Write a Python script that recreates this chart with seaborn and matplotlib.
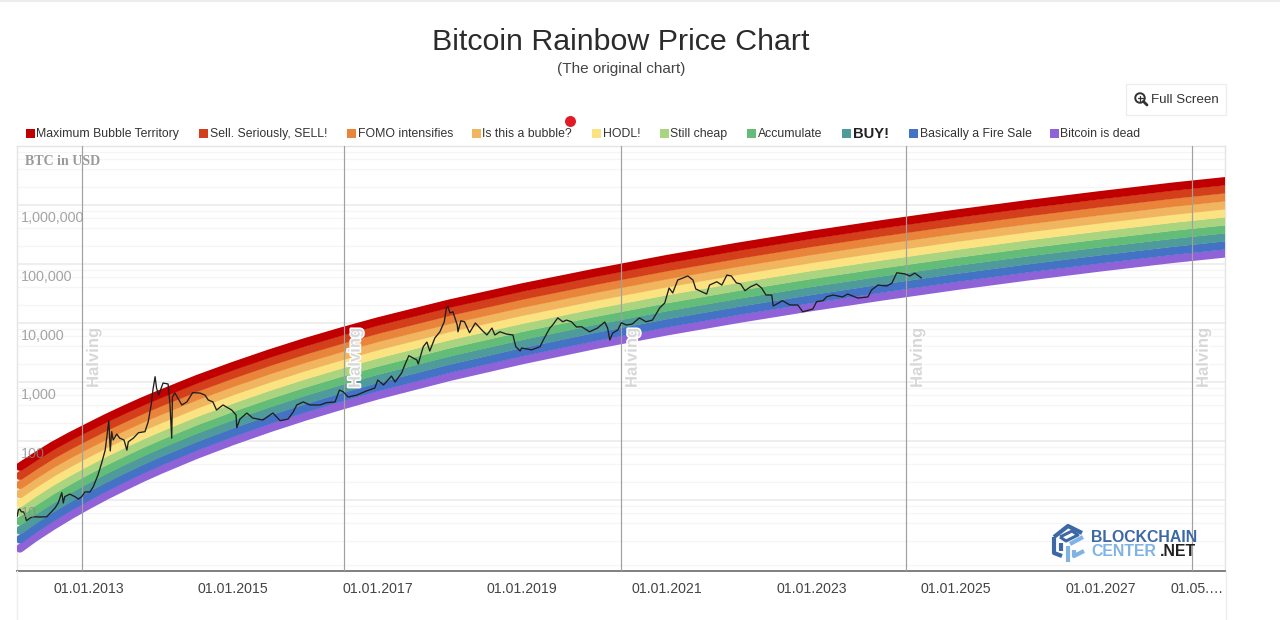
import numpy as np
import pandas as pd
import matplotlib
matplotlib.use("Agg")
import matplotlib.pyplot as plt
import matplotlib.patheffects as pe
from matplotlib.lines import Line2D
from matplotlib.patches import Rectangle, Ellipse
from matplotlib.ticker import LogLocator, NullFormatter, NullLocator
import matplotlib.transforms as mtrans
import seaborn as sns

# ---------- data ----------
band_years = [2012.05, 2012.25, 2012.5, 2012.75, 2013, 2013.25, 2013.5, 2013.75, 2014, 2014.5, 2015, 2015.5, 2016, 2016.5, 2017,
              2018, 2019, 2020, 2021, 2022, 2023, 2024, 2025, 2026, 2027, 2028, 2028.75]
# log10 of the USD price along the centre of each band
log_dead = [.178, .357, .557, .742, .915, 1.078, 1.230, 1.377, 1.514, 1.770, 2.002, 2.216, 2.416, 2.600, 2.774, 3.089, 3.370, 3.626, 3.859, 4.072, 4.270, 4.454, 4.628, 4.791, 4.943, 5.087, 5.183]
log_fire = [.332, .509, .708, .891, 1.062, 1.224, 1.375, 1.521, 1.657, 1.912, 2.143, 2.357, 2.556, 2.740, 2.913, 3.227, 3.507, 3.762, 3.995, 4.208, 4.406, 4.590, 4.764, 4.927, 5.079, 5.223, 5.319]
log_buy = [.486, .661, .859, 1.040, 1.209, 1.370, 1.520, 1.665, 1.800, 2.054, 2.284, 2.497, 2.696, 2.879, 3.052, 3.365, 3.644, 3.898, 4.131, 4.344, 4.542, 4.726, 4.900, 5.063, 5.215, 5.359, 5.455]
log_accu = [.640, .813, 1.010, 1.189, 1.356, 1.516, 1.665, 1.809, 1.943, 2.196, 2.425, 2.638, 2.836, 3.019, 3.191, 3.503, 3.781, 4.034, 4.267, 4.480, 4.678, 4.862, 5.036, 5.199, 5.351, 5.495, 5.591]
log_cheap = [.794, .965, 1.161, 1.338, 1.503, 1.662, 1.810, 1.953, 2.086, 2.338, 2.566, 2.778, 2.976, 3.158, 3.330, 3.641, 3.918, 4.170, 4.403, 4.616, 4.814, 4.998, 5.172, 5.335, 5.487, 5.631, 5.727]
log_hodl = [.948, 1.117, 1.312, 1.487, 1.650, 1.808, 1.955, 2.097, 2.229, 2.480, 2.707, 2.919, 3.116, 3.298, 3.469, 3.779, 4.055, 4.306, 4.539, 4.752, 4.950, 5.134, 5.308, 5.471, 5.623, 5.767, 5.863]
log_bubble = [1.102, 1.269, 1.463, 1.636, 1.797, 1.954, 2.100, 2.241, 2.372, 2.622, 2.848, 3.059, 3.256, 3.437, 3.608, 3.917, 4.192, 4.442, 4.675, 4.888, 5.086, 5.270, 5.444, 5.607, 5.759, 5.903, 5.999]
log_fomo = [1.256, 1.421, 1.614, 1.785, 1.944, 2.100, 2.245, 2.385, 2.515, 2.764, 2.989, 3.200, 3.396, 3.577, 3.747, 4.055, 4.329, 4.578, 4.811, 5.024, 5.222, 5.406, 5.580, 5.743, 5.895, 6.039, 6.135]
log_sell = [1.410, 1.573, 1.765, 1.934, 2.091, 2.246, 2.390, 2.529, 2.658, 2.906, 3.130, 3.340, 3.536, 3.716, 3.886, 4.193, 4.466, 4.714, 4.947, 5.160, 5.358, 5.542, 5.716, 5.879, 6.031, 6.175, 6.271]
log_max = [1.564, 1.725, 1.916, 2.083, 2.238, 2.392, 2.535, 2.673, 2.801, 3.048, 3.271, 3.481, 3.676, 3.856, 4.025, 4.331, 4.603, 4.850, 5.083, 5.296, 5.494, 5.678, 5.852, 6.015, 6.167, 6.311, 6.407]

legend_labels = ["Maximum Bubble Territory", "Sell. Seriously, SELL!", "FOMO intensifies", "Is this a bubble?",
                 "HODL!", "Still cheap", "Accumulate", "BUY!", "Basically a Fire Sale", "Bitcoin is dead"]
band_logs = [log_max, log_sell, log_fomo, log_bubble, log_hodl, log_cheap, log_accu, log_buy, log_fire, log_dead]
band_colors = ["#C00000", "#D33F1B", "#E9853A", "#F1B45F", "#FBE381", "#ABD481", "#63BC78", "#4F9A9A", "#4473C6", "#9062D8"]

price_years = [2012.01, 2012.03, 2012.05, 2012.07, 2012.10, 2012.12, 2012.14, 2012.19, 2012.23, 2012.33, 2012.42, 2012.47,
    2012.535, 2012.58, 2012.63, 2012.65, 2012.67, 2012.74, 2012.81, 2012.86, 2012.905, 2012.95, 2013.02, 2013.065, 2013.13,
    2013.18, 2013.23, 2013.26, 2013.28, 2013.30, 2013.32, 2013.34, 2013.39, 2013.43, 2013.49, 2013.53, 2013.55, 2013.62,
    2013.69, 2013.78, 2013.825, 2013.87, 2013.89, 2013.92, 2013.94, 2013.97, 2014.03, 2014.10, 2014.125, 2014.15, 2014.16,
    2014.195, 2014.29, 2014.36, 2014.44, 2014.54, 2014.61, 2014.655, 2014.72, 2014.77, 2014.86, 2014.98, 2015.04, 2015.05,
    2015.095, 2015.19, 2015.27, 2015.41, 2015.55, 2015.65, 2015.76, 2015.83, 2015.88, 2015.97, 2016.06, 2016.20, 2016.29,
    2016.41, 2016.47, 2016.52, 2016.59, 2016.71, 2016.85, 2016.96, 2017.00, 2017.08, 2017.19, 2017.24, 2017.33, 2017.38,
    2017.43, 2017.54, 2017.56, 2017.63, 2017.68, 2017.72, 2017.79, 2017.86, 2017.92, 2017.95, 2017.97, 2018.00, 2018.04,
    2018.10, 2018.11, 2018.15, 2018.20, 2018.27, 2018.35, 2018.44, 2018.51, 2018.58, 2018.62, 2018.69, 2018.78, 2018.87,
    2018.91, 2018.97, 2018.99, 2019.13, 2019.245, 2019.29, 2019.38, 2019.42, 2019.49, 2019.56, 2019.61, 2019.68, 2019.75,
    2019.82, 2019.93, 2020.04, 2020.14, 2020.18, 2020.21, 2020.25, 2020.32, 2020.37, 2020.44, 2020.52, 2020.62, 2020.71,
    2020.80, 2020.90, 2020.97, 2021.03, 2021.08, 2021.15, 2021.22, 2021.29, 2021.36, 2021.40, 2021.48, 2021.55, 2021.59,
    2021.69, 2021.76, 2021.83, 2021.89, 2021.96, 2022.02, 2022.08, 2022.155, 2022.24, 2022.31, 2022.37, 2022.45, 2022.47,
    2022.60, 2022.70, 2022.81, 2022.88, 2023.02, 2023.07, 2023.16, 2023.21, 2023.30, 2023.43, 2023.50, 2023.64, 2023.78,
    2023.83, 2023.92, 2024.04, 2024.11, 2024.18, 2024.29, 2024.36, 2024.43, 2024.52]
price_usd = [5.2, 6.8, 7.0, 6.3, 6.3, 5.6, 4.45, 4.95, 5.2, 5.15, 5.2, 6.0,
    7.3, 8.9, 13.3, 8.9, 11.4, 12.6, 11.4, 10.4, 11.4, 13.7, 13.7, 16.8, 26.5,
    42, 70, 137, 221, 68, 144, 104, 131, 112, 104, 70, 97, 112,
    138, 144, 212, 440, 730, 1230, 790, 600, 960, 925, 440, 112, 560,
    650, 408, 460, 660, 650, 600, 496, 460, 335, 408, 335, 276, 168,
    236, 298, 245, 227, 298, 221, 236, 310, 408, 460, 408, 408, 446,
    460, 730, 685, 557, 600, 710, 790, 1080, 890, 1260, 1000, 1420, 2020,
    2790, 2360, 2020, 3970, 4760, 3350, 5570, 7100, 10500, 18000, 18900, 14800, 15500,
    9250, 7100, 10900, 10500, 6850, 10000, 7600, 6270, 8200, 6270, 7100, 6500, 6270,
    3970, 3350, 3770, 3500, 3970, 5150, 8200, 9250, 12200, 10500, 11200, 10500, 8550,
    8650, 7100, 8200, 10400, 8200, 5150, 6760, 7600, 10100, 9250, 9600, 12200, 10500,
    11200, 18000, 21800, 39200, 32300, 53500, 57900, 62700, 53500, 37700, 33900, 31000, 44000,
    50000, 44000, 65000, 62700, 48000, 45800, 35300, 41000, 45800, 39200, 29800, 29800, 19400,
    23900, 20200, 20200, 15500, 17300, 23000, 23900, 27900, 29800, 27600, 31000, 26500, 27600,
    36200, 44000, 42400, 47000, 71000, 68000, 62700, 70000, 58000]

halving_years = [2012.91, 2016.53, 2020.36, 2024.305, 2028.26]
x_tick_pos = [2013, 2015, 2017, 2019, 2021, 2023, 2025, 2027, 2028.33]
x_tick_labels = ["01.01.2013", "01.01.2015", "01.01.2017", "01.01.2019", "01.01.2021", "01.01.2023",
                 "01.01.2025", "01.01.2027", "01.05.\u2026"]
y_tick_pos = [10, 100, 1000, 10000, 100000, 1000000]
y_tick_labels = ["10", "100", "1,000", "10,000", "100,000", "1,000,000"]

# ---------- theme ----------
W, H = 1280, 620
sns.set_theme(style="white")
plt.rcParams["font.family"] = ["Liberation Sans", "DejaVu Sans"]
fig = plt.figure(figsize=(W / 100, H / 100), dpi=100, facecolor="white")


def fx(x):
    return x / W


def fy(y):
    return 1 - y / H


rect = [fx(17), fy(571), (1225 - 17) / W, (571 - 146) / H]
ax = fig.add_axes(rect)
ax.set_facecolor("white")

# ---------- bands (thick round-capped strokes) ----------
band_px = 8.3
for label, logs, col in zip(legend_labels[::-1], band_logs[::-1], band_colors[::-1]):
    df = pd.DataFrame({"year": band_years, "price": 10.0 ** np.array(logs)})
    sns.lineplot(data=df, x="year", y="price", color=col, linewidth=band_px * 0.72, estimator=None,
                 sort=False, ax=ax, solid_capstyle="round", solid_joinstyle="round", zorder=3)

# ---------- price ----------
df_price = pd.DataFrame({"year": price_years, "price": price_usd})
sns.lineplot(data=df_price, x="year", y="price", color="#1f1f1f", linewidth=0.95, estimator=None,
             sort=False, ax=ax, zorder=6)

ax.set_yscale("log")
ax.set_xlim(2012.01, 2028.72)
ax.set_ylim(10 ** -0.2034, 10 ** 7.0)
ax.set_xlabel("")
ax.set_ylabel("")

# ---------- axes ----------
ax.set_xticks(x_tick_pos)
ax.set_xticklabels(x_tick_labels, fontsize=10.2, color="#444444")
ax.tick_params(axis="x", length=0, pad=8)
ax.set_yticks(y_tick_pos)
ax.set_yticklabels([])
ax.yaxis.set_minor_locator(LogLocator(base=10, subs=[2, 4, 6, 8], numticks=20))
ax.yaxis.set_minor_formatter(NullFormatter())
ax.tick_params(axis="y", which="both", length=0)
ax.set_axisbelow(True)
ax.grid(True, axis="y", which="major", color="#e9e9e9", linewidth=1.1, zorder=0)
ax.grid(True, axis="y", which="minor", color="#f5f5f5", linewidth=0.9, zorder=0)
ax.grid(False, axis="x")
for s in ["top", "left", "right"]:
    ax.spines[s].set_color("#e4e4e4")
    ax.spines[s].set_linewidth(1.0)
ax.spines["bottom"].set_color("#808080")
ax.spines["bottom"].set_linewidth(1.4)

# y labels sit above the rainbow, so they live on a transparent overlay axes
ax_lab = fig.add_axes(rect, frameon=False, zorder=ax.get_zorder() + 1)
ax_lab.patch.set_visible(False)
ax_lab.set_yscale("log")
ax_lab.set_xlim(ax.get_xlim())
ax_lab.set_ylim(ax.get_ylim())
ax_lab.xaxis.set_major_locator(NullLocator())
ax_lab.set_yticks(y_tick_pos)
ax_lab.set_yticklabels(y_tick_labels, fontsize=10.4, color="#8c8c8c", alpha=0.78)
ax_lab.yaxis.set_minor_locator(NullLocator())
ax_lab.tick_params(axis="y", which="both", length=0, pad=-3)
off = mtrans.ScaledTranslation(0, -12 / 100, fig.dpi_scale_trans)
for lab in ax_lab.get_yticklabels():
    lab.set_horizontalalignment("left")
    lab.set_transform(lab.get_transform() + off)

# ---------- halvings ----------
for yr in halving_years:
    ax.axvline(yr, color="#a0a0a0", linewidth=0.85, zorder=5)
    t = ax.annotate("Halving", xy=(yr, 0), xycoords=("data", "axes fraction"), xytext=(11.5 * 0.72, 183 * 0.72),
                    textcoords="offset points", rotation=90, ha="center", va="bottom", fontsize=12,
                    fontweight="bold", color="#d8d8d8", zorder=7)
    t.set_path_effects([pe.withStroke(linewidth=2.2, foreground="white")])

ax.text(fx(25), fy(162), "BTC in USD", transform=fig.transFigure, family=["Liberation Serif"], fontweight="bold",
        fontsize=10.1, color="#9a9a9a", va="center", zorder=7)

# ---------- titles ----------
fig.text(fx(621), fy(42), "Bitcoin Rainbow Price Chart", ha="center", va="center", fontsize=21.9, color="#2b2b2b")
fig.text(fx(621), fy(68.5), "(The original chart)", ha="center", va="center", fontsize=11, color="#444444")

# ---------- legend ----------
sq_x = [26, 199, 347, 472, 592, 660, 747, 842, 909, 1050]
for i, (lab, col) in enumerate(zip(legend_labels, band_colors)):
    fig.add_artist(Rectangle((fx(sq_x[i]), fy(137.5)), 9 / W, 9 / H, transform=fig.transFigure, color=col, lw=0))
    bold = lab == "BUY!"
    fig.text(fx(sq_x[i] + 10.5), fy(134), lab, ha="left", va="center", fontsize=10.6 if bold else 8.85,
             fontweight="bold" if bold else "normal", color="#222222" if bold else "#333333")
fig.add_artist(Ellipse((fx(570.5), fy(121.5)), 11 / W, 11 / H, transform=fig.transFigure, color="#E01B24", lw=0))

# ---------- full screen button ----------
fig.add_artist(Rectangle((fx(1126), fy(115)), 100 / W, 31 / H, transform=fig.transFigure, facecolor="white",
                         edgecolor="#ececec", lw=0.9))
fig.text(fx(1151), fy(100), "Full Screen", ha="left", va="center", fontsize=9.6, color="#333333")
fig.add_artist(Ellipse((fx(1140), fy(98)), 9.5 / W, 9.5 / H, transform=fig.transFigure,
                       facecolor="none", edgecolor="#333333", lw=1.4))
fig.add_artist(Line2D([fx(1143.5), fx(1147)], [fy(101.5), fy(105)], color="#333333", lw=2, transform=fig.transFigure))
fig.add_artist(Line2D([fx(1137.5), fx(1142.5)], [fy(98), fy(98)], color="#333333", lw=0.9, transform=fig.transFigure))
fig.add_artist(Line2D([fx(1140), fx(1140)], [fy(95.5), fy(100.5)], color="#333333", lw=0.9, transform=fig.transFigure))

# ---------- page frame ----------
fig.add_artist(Line2D([0, 1], [fy(0.5), fy(0.5)], color="#ececec", lw=1.5, transform=fig.transFigure))
fig.add_artist(Line2D([fx(17), fx(17)], [fy(571), 0], color="#eeeeee", lw=1, transform=fig.transFigure))
fig.add_artist(Line2D([fx(1226), fx(1226)], [fy(571), 0], color="#eeeeee", lw=1, transform=fig.transFigure))

# ---------- logo ----------
dark, light = "#3D68A8", "#7FB3E3"
def seg(pts, col, lw=3.0):
    fig.add_artist(Line2D([fx(p[0]) for p in pts], [fy(p[1]) for p in pts], color=col, lw=lw,
                          transform=fig.transFigure, solid_capstyle="butt", zorder=8))
seg([(1054, 537), (1068, 526), (1082, 533)], dark)
seg([(1060, 537), (1072, 531), (1078, 535), (1066, 541), (1060, 537)], dark, 2.2)
seg([(1054, 537), (1054, 553), (1062, 556)], dark)
seg([(1061, 543), (1061, 551)], dark)
seg([(1068, 546), (1068, 562)], light)
seg([(1070, 544), (1083, 537)], light)
seg([(1074, 550), (1074, 556), (1084, 551)], light)
fig.text(fx(1091), fy(538), "BLOCKCHAIN", ha="left", va="center", fontsize=11.4, fontweight="bold", color=dark, zorder=8)
fig.text(fx(1091), fy(551), "CENTER", ha="left", va="center", fontsize=11.4, fontweight="bold", color=light, zorder=8)
fig.text(fx(1160), fy(551), ".NET", ha="left", va="center", fontsize=11.4, fontweight="bold", color="#222222", zorder=8)

fig.savefig("out.png", dpi=100, facecolor="white")
